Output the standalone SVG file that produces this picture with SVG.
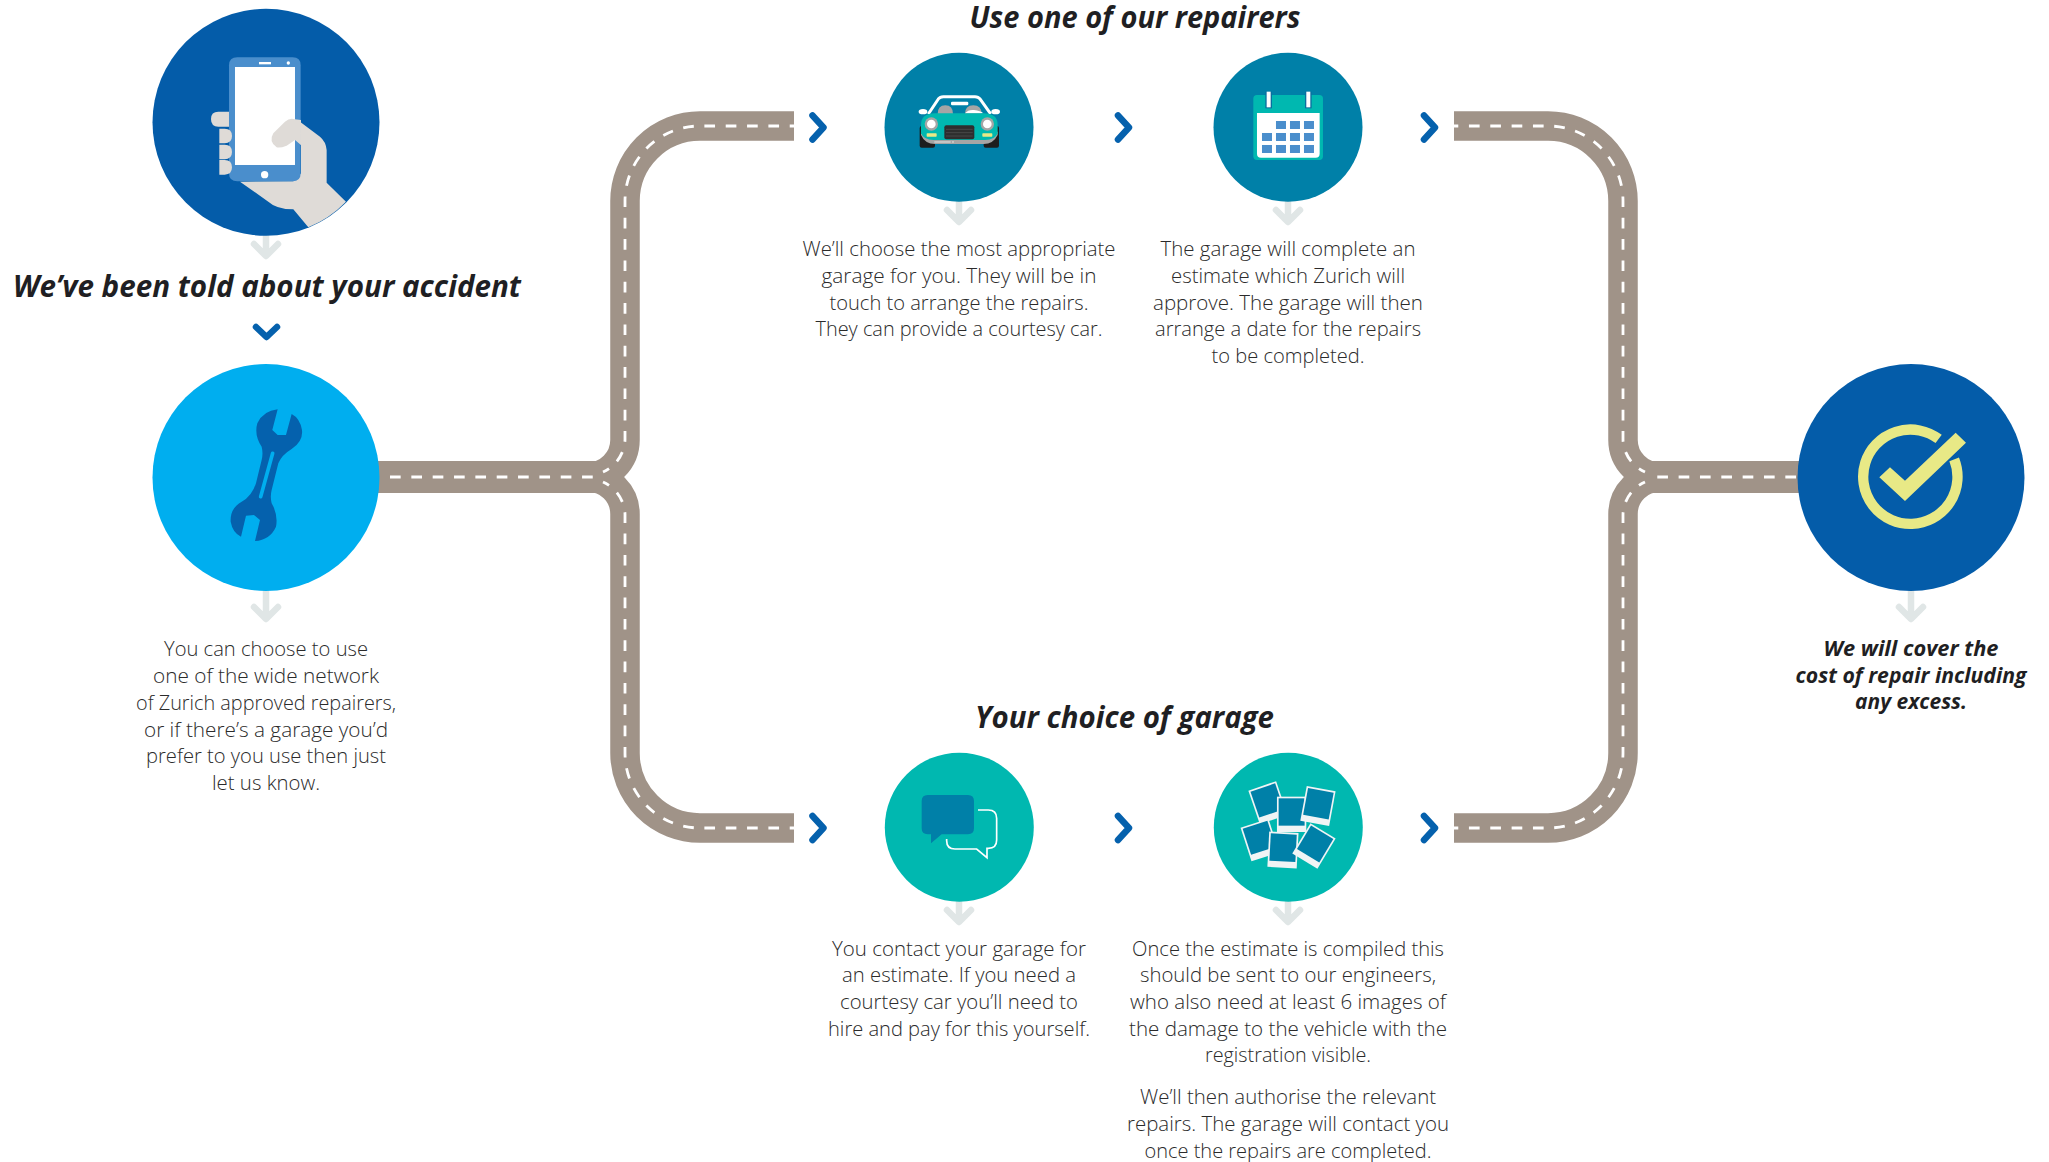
<svg xmlns="http://www.w3.org/2000/svg" xmlns:xlink="http://www.w3.org/1999/xlink" width="2049" height="1162" viewBox="0 0 2049 1162">
<style>
text{font-family:"Open Sans","Noto Sans","Liberation Sans",sans-serif;text-anchor:middle}
.b{font-size:21px;fill:#2b2b2b;font-weight:300}
.h{font-size:30px;fill:#1f1f23;font-weight:700;font-style:italic}
.s{font-size:21px;fill:#1f1f23;font-weight:700;font-style:italic}
.road{fill:none;stroke:#a09388;stroke-width:29.5}
.roadh{fill:none;stroke:#a09388;stroke-width:32}
.dash{fill:none;stroke:#fff;stroke-width:2.8;stroke-dasharray:10.67 10.67}
.off{stroke-dashoffset:6.4}
.chev{fill:none;stroke:#0561ad;stroke-width:6.5;stroke-linecap:round;stroke-linejoin:round}
.down{fill:none;stroke:#e0e6e6;stroke-width:6.5;stroke-linecap:round;stroke-linejoin:round}
.z{fill:#0080a8}
.fr{fill:#f0f4f5}
.cal{fill:#4a8ecc}
</style>
<defs>
<path id="r" class="chev" d="M3,-12 L14,0 L3,12"/>
<path id="d" class="down" d="M0,0 V19 M-12,8 L0,20 L12,8"/>
<path id="d2" class="down" d="M0,0 V27 M-12,16 L0,28 L12,16"/>
<g id="pol"><rect class="fr" x="-44" y="-53" width="88" height="106"/><rect class="z" x="-39" y="-48" width="78" height="82"/></g>
</defs>
<g id="connectors">
<path class="road" d="M794,126 H700 A75,75 0 0 0 625,201 V440 A37,37 0 0 1 588,477"/>
<path class="road" d="M794,828 H700 A75,75 0 0 1 625,753 V514 A37,37 0 0 0 588,477"/>
<path class="roadh" d="M375,477 H600"/>
<path class="road" d="M1454,126 H1548 A75,75 0 0 1 1623,201 V440 A37,37 0 0 0 1660,477"/>
<path class="road" d="M1454,828 H1548 A75,75 0 0 0 1623,753 V514 A37,37 0 0 1 1660,477"/>
<path class="roadh" d="M1648,477 H1802"/>
<path class="dash off" d="M794,126 H700 A75,75 0 0 0 625,201 V440 A37,37 0 0 1 603,472"/>
<path class="dash off" d="M794,828 H700 A75,75 0 0 1 625,753 V514 A37,37 0 0 0 603,482"/>
<path class="dash" d="M390,477 H597"/>
<path class="dash off" d="M1454,126 H1548 A75,75 0 0 1 1623,201 V440 A37,37 0 0 0 1645,472"/>
<path class="dash off" d="M1454,828 H1548 A75,75 0 0 0 1623,753 V514 A37,37 0 0 1 1645,482"/>
<path class="dash" d="M1796,477 H1651"/>
<use href="#r" x="809.500" y="127.500"/><use href="#r" x="1115" y="127.500"/><use href="#r" x="1421" y="127.500"/>
<use href="#r" x="809.500" y="828"/><use href="#r" x="1115" y="828"/><use href="#r" x="1421" y="828"/>
<path class="chev" d="M256,327 L266.500,337 L277,327"/>
<use href="#d" x="266" y="236"/><use href="#d2" x="266" y="591"/><use href="#d2" x="1911" y="591"/>
<use href="#d" x="959" y="202"/><use href="#d" x="1288" y="202"/><use href="#d" x="959" y="902"/><use href="#d" x="1288" y="902"/>
</g>
<g id="node-told">
<circle cx="266" cy="122.300" r="113.500" fill="#045ca9"/>
<g transform="translate(130,0) scale(.3333)">
<path fill="#dfdbd7" d="M300,335 H265 Q243,335 243,357 Q243,380 265,380 H300Z"/>
<path fill="#dfdbd7" d="M330,545 L415,605 Q440,628 490,628 L535,682 A339,339 0 0 0 648,605 L590,548 V450 Q588,425 570,410 L510,365 Q490,350 470,362 L435,392 Q415,412 432,435 Q448,450 470,437 L495,420 L513,435 V520 L490,544Z"/>
<path fill="#4a8ecc" d="M322,172 H488 Q512,172 512,196 V520 Q512,544 488,544 H322 Q297,544 297,520 V196 Q297,172 322,172Z"/>
<rect x="315" y="201" width="180" height="294" fill="#fff"/>
<path fill="#dfdbd7" d="M495,358 Q480,352 465,365 L430,400 Q415,425 440,442 Q450,445 470,437 L495,420 L513,435 V360Z" />
<circle cx="404" cy="524" r="11" fill="#fff"/><rect x="387" y="186" width="36" height="7" fill="#fff"/><circle cx="475" cy="189" r="5" fill="#fff"/>
<path fill="#dfdbd7" d="M268,386 H284 Q306,386 306,408 Q306,430 284,430 H268Z M268,434 H284 Q306,434 306,456 Q306,478 284,478 H268Z M268,480 H284 Q306,480 306,502 Q306,524 284,524 H268Z"/>
</g>
<text class="h" x="267" y="297" textLength="508" lengthAdjust="spacingAndGlyphs">We’ve been told about your accident</text>
</g>
<g id="node-choose">
<circle cx="266" cy="477.500" r="113.500" fill="#00aeef"/>
<g transform="translate(130,350) scale(.3333)">
<path fill="#0561ad" d="M443,178 Q400,182 382,220 Q372,255 395,290 Q400,310 395,330 L378,400 Q365,440 335,455 Q300,475 302,515 Q308,548 333,560 L348,497 L372,495 L390,510 L375,573 Q420,570 438,530 Q445,495 425,460 Q420,440 425,420 L445,340 Q455,315 485,297 Q520,275 516,240 Q510,205 485,192 L468,255 H443 L427,240Z"/>
<path d="M428,310 L392,440" stroke="#00aeef" stroke-width="11" stroke-linecap="round" fill="none"/>
</g>
<text class="b" x="266" y="656" textLength="204" lengthAdjust="spacingAndGlyphs">You can choose to use</text>
<text class="b" x="266" y="683" textLength="226" lengthAdjust="spacingAndGlyphs">one of the wide network</text>
<text class="b" x="266" y="710" textLength="260" lengthAdjust="spacingAndGlyphs">of Zurich approved repairers,</text>
<text class="b" x="266" y="736.500" textLength="244" lengthAdjust="spacingAndGlyphs">or if there’s a garage you’d</text>
<text class="b" x="266" y="763" textLength="240" lengthAdjust="spacingAndGlyphs">prefer to you use then just</text>
<text class="b" x="266" y="790" textLength="108" lengthAdjust="spacingAndGlyphs">let us know.</text>
</g>
<text class="h" x="1135" y="28" textLength="331" lengthAdjust="spacingAndGlyphs">Use one of our repairers</text>
<g id="node-car">
<circle cx="959" cy="127.300" r="74.500" fill="#0080a8"/>
<g transform="translate(880,50) scale(.3333)">
<rect x="119" y="228" width="46" height="65" rx="6" fill="#1d1d1d"/><rect x="311" y="228" width="46" height="65" rx="6" fill="#1d1d1d"/>
<path d="M145,192 L175,147 Q180,140 190,140 H285 Q295,140 300,147 L332,192" fill="none" stroke="#fff" stroke-width="9"/>
<rect x="213" y="155" width="52" height="11" rx="4" fill="#fff"/>
<path fill="#a5a5a5" d="M173,192 Q173,166 196,166 Q219,166 219,192Z M255,192 Q255,166 280,166 Q305,166 305,192Z"/>
<path fill="#fff" d="M255,190 Q265,178 282,180 Q302,182 310,190Z"/>
<ellipse cx="129" cy="185" rx="13" ry="8" fill="#fff"/><ellipse cx="347" cy="185" rx="13" ry="8" fill="#fff"/>
<path fill="#a5a5a5" d="M123,245 V255 Q135,282 165,282 H311 Q340,282 353,255 V245Z"/>
<path fill="#00b8b0" d="M123,225 Q123,190 165,190 H311 Q353,190 353,225 V250 Q345,270 315,270 H161 Q131,270 123,250Z"/>
<circle cx="154" cy="222" r="20" fill="#a5a5a5"/><circle cx="154" cy="222" r="13" fill="#fff"/>
<circle cx="322" cy="222" r="20" fill="#a5a5a5"/><circle cx="322" cy="222" r="13" fill="#fff"/>
<rect x="140" y="250" width="30" height="10" rx="2" fill="#e8e986"/><rect x="307" y="250" width="30" height="10" rx="2" fill="#e8e986"/>
<rect x="193" y="226" width="90" height="42" rx="6" fill="#2e2e2e"/>
<path d="M198,238 H278 M198,248 H278 M198,258 H278" stroke="#555" stroke-width="2"/>
<path d="M163,276 H212 M216,276 H222" stroke="#fff" stroke-width="2.500" opacity=".85"/>
</g>
<text class="b" x="959" y="256" textLength="313" lengthAdjust="spacingAndGlyphs">We’ll choose the most appropriate</text>
<text class="b" x="959" y="283" textLength="275" lengthAdjust="spacingAndGlyphs">garage for you. They will be in</text>
<text class="b" x="959" y="310" textLength="259" lengthAdjust="spacingAndGlyphs">touch to arrange the repairs.</text>
<text class="b" x="959" y="336" textLength="287" lengthAdjust="spacingAndGlyphs">They can provide a courtesy car.</text>
</g>
<g id="node-calendar">
<circle cx="1288" cy="127.300" r="74.500" fill="#0080a8"/>
<g transform="translate(1100,40) scale(.3333)">
<rect x="460" y="165" width="209" height="195" rx="11" fill="#00b8b0"/>
<path fill="#fff" d="M471,219 H659 V341 Q659,353 647,353 H483 Q471,353 471,341Z"/>
<rect x="496" y="155" width="20" height="50" fill="#0a6f9f"/><rect x="615" y="155" width="20" height="50" fill="#0a6f9f"/>
<rect x="500" y="155" width="12" height="47" fill="#fff"/><rect x="619" y="155" width="12" height="47" fill="#fff"/>
<g class="cal"><rect x="528" y="243" width="30" height="24"/><rect x="570" y="243" width="30" height="24"/><rect x="612" y="243" width="30" height="24"/>
<rect x="486" y="279" width="30" height="24"/><rect x="528" y="279" width="30" height="24"/><rect x="570" y="279" width="30" height="24"/><rect x="612" y="279" width="30" height="24"/>
<rect x="486" y="315" width="30" height="24"/><rect x="528" y="315" width="30" height="24"/><rect x="570" y="315" width="30" height="24"/><rect x="612" y="315" width="30" height="24"/></g>
</g>
<text class="b" x="1288" y="256" textLength="255" lengthAdjust="spacingAndGlyphs">The garage will complete an</text>
<text class="b" x="1288" y="283" textLength="234" lengthAdjust="spacingAndGlyphs">estimate which Zurich will</text>
<text class="b" x="1288" y="310" textLength="270" lengthAdjust="spacingAndGlyphs">approve. The garage will then</text>
<text class="b" x="1288" y="336" textLength="266" lengthAdjust="spacingAndGlyphs">arrange a date for the repairs</text>
<text class="b" x="1288" y="363" textLength="153" lengthAdjust="spacingAndGlyphs">to be completed.</text>
</g>
<text class="h" x="1124.500" y="728" textLength="299" lengthAdjust="spacingAndGlyphs">Your choice of garage</text>
<g id="node-contact">
<circle cx="959.300" cy="827.200" r="74.500" fill="#00b8b0"/>
<g transform="translate(860,740) scale(.3333)">
<path class="z" d="M203,165 H324 Q342,165 342,183 V265 Q342,283 324,283 H245 L213,310 V283 H203 Q185,283 185,265 V183 Q185,165 203,165Z"/>
<path fill="none" stroke="#fff" stroke-width="5" d="M354,210 H385 Q410,210 410,235 V300 Q410,325 385,325 H381 V353 L350,327 H285 Q260,327 260,302 V297"/>
</g>
<text class="b" x="959" y="955.500" textLength="254" lengthAdjust="spacingAndGlyphs">You contact your garage for</text>
<text class="b" x="959" y="982" textLength="234" lengthAdjust="spacingAndGlyphs">an estimate. If you need a</text>
<text class="b" x="959" y="1009" textLength="238" lengthAdjust="spacingAndGlyphs">courtesy car you’ll need to</text>
<text class="b" x="959" y="1036" textLength="262" lengthAdjust="spacingAndGlyphs">hire and pay for this yourself.</text>
</g>
<g id="node-photos">
<circle cx="1288.300" cy="827.200" r="74.500" fill="#00b8b0"/>
<g transform="translate(860,740) scale(.3333)">
<use href="#pol" transform="translate(1224,188) rotate(-18.800)"/>
<use href="#pol" transform="translate(1295,223)"/>
<use href="#pol" transform="translate(1374,198) rotate(10.500)"/>
<use href="#pol" transform="translate(1200,300) rotate(-18)"/>
<use href="#pol" transform="translate(1269,330) rotate(3)"/>
<use href="#pol" transform="translate(1362,318) rotate(31)"/>
</g>
<text class="b" x="1288" y="955.500" textLength="312" lengthAdjust="spacingAndGlyphs">Once the estimate is compiled this</text>
<text class="b" x="1288" y="982" textLength="296" lengthAdjust="spacingAndGlyphs">should be sent to our engineers,</text>
<text class="b" x="1288" y="1009" textLength="316" lengthAdjust="spacingAndGlyphs">who also need at least 6 images of</text>
<text class="b" x="1288" y="1036" textLength="318" lengthAdjust="spacingAndGlyphs">the damage to the vehicle with the</text>
<text class="b" x="1288" y="1062" textLength="166" lengthAdjust="spacingAndGlyphs">registration visible.</text>
<text class="b" x="1288" y="1104" textLength="296" lengthAdjust="spacingAndGlyphs">We’ll then authorise the relevant</text>
<text class="b" x="1288" y="1131" textLength="322" lengthAdjust="spacingAndGlyphs">repairs. The garage will contact you</text>
<text class="b" x="1288" y="1158" textLength="287" lengthAdjust="spacingAndGlyphs">once the repairs are completed.</text>
</g>
<g id="node-cover">
<circle cx="1911" cy="477.500" r="113.500" fill="#045ca9"/>
<g transform="translate(1780,350) scale(.3333)">
<path fill="none" stroke="#e8e986" stroke-width="31" d="M522.600,328 A141.500,141.500 0 1 1 476,267"/>
<path fill="#e8e986" d="M298,382 L330,352 L375,392 L527,248 L558,278 L375,453Z"/>
</g>
<text class="s" x="1911" y="656" textLength="175" lengthAdjust="spacingAndGlyphs">We will cover the</text>
<text class="s" x="1911" y="682.500" textLength="231" lengthAdjust="spacingAndGlyphs">cost of repair including</text>
<text class="s" x="1911" y="709" textLength="112" lengthAdjust="spacingAndGlyphs">any excess.</text>
</g>
</svg>
